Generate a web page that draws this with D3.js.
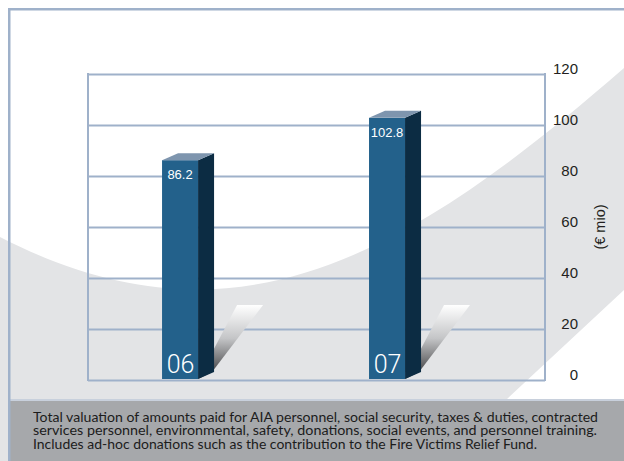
<!DOCTYPE html>
<html>
<head>
<meta charset="utf-8">
<script src="https://cdn.jsdelivr.net/npm/d3@7"></script>
<style>
  html, body { margin: 0; padding: 0; background: #ffffff; }
  svg { display: block; }
</style>
</head>
<body>
<svg id="chart" width="624" height="461"></svg>
<script>
// Data
const categories = ["06", "07"];
const values = [86.2, 102.8];
const tickValues = [0, 20, 40, 60, 80, 100, 120];
const axisTitle = "(€ mio)";
const captionLines = [
  "Total valuation of amounts paid for AIA personnel, social security, taxes & duties, contracted",
  "services personnel, environmental, safety, donations, social events, and personnel training.",
  "Includes ad-hoc donations such as the contribution to the Fire Victims Relief Fund."
];
const captionWidths = [565, 564, 504];

const W = 624, H = 461;
const plot = { left: 88, right: 545, top: 74, bottom: 380 };
const frameColor = "#9fb1ca";
const depthX = 16, depthY = 7;

const svg = d3.select("#chart");

// Gradient for the floor shadow behind each bar
const defs = svg.append("defs");
const grad = defs.append("linearGradient")
  .attr("id", "shadowGrad").attr("x1", 0).attr("y1", 0).attr("x2", 0).attr("y2", 1);
grad.append("stop").attr("offset", "0%").attr("stop-color", "#ffffff");
grad.append("stop").attr("offset", "45%").attr("stop-color", "#c4c5c7");
grad.append("stop").attr("offset", "100%").attr("stop-color", "#2e2e30");

// Backdrop: white page with a sweeping grey band
svg.append("rect").attr("width", W).attr("height", H).attr("fill", "#ffffff");
svg.append("path")
  .attr("d", "M0,237 C230,355 400,263 624,68 L624,290 L507,399 L0,399 Z")
  .attr("fill", "#e3e4e6");
svg.append("rect").attr("x", 0).attr("y", 399).attr("width", 10).attr("height", 62).attr("fill", "#e3e4e6");

// Caption panel
svg.append("rect").attr("x", 10).attr("y", 399).attr("width", W - 10).attr("height", H - 399).attr("fill", "#a6a8ab");
svg.append("rect").attr("x", 10).attr("y", 399).attr("width", W - 10).attr("height", 2).attr("fill", "#c8d0dc");

// Outer frame (top and left edges)
svg.append("rect").attr("x", 8).attr("y", 8).attr("width", W - 8).attr("height", 2.5).attr("fill", frameColor);
svg.append("rect").attr("x", 8).attr("y", 8).attr("width", 2.5).attr("height", H - 8).attr("fill", frameColor);

// Scales
const x = d3.scaleBand()
  .domain(categories)
  .range([plot.left, plot.right])
  .paddingInner(0.826)
  .paddingOuter(0.517)
  .align(0.346);
const y = d3.scaleLinear().domain([0, 120]).range([plot.bottom, plot.top]);

// Gridlines
const grid = svg.append("g")
  .attr("transform", `translate(${plot.left},0)`)
  .call(d3.axisLeft(y).tickValues(tickValues).tickSize(-(plot.right - plot.left)).tickFormat(""));
grid.select(".domain").remove();
grid.selectAll("line").attr("stroke", frameColor).attr("stroke-width", 2);

// Plot box sides
[plot.left, plot.right].forEach(px => {
  svg.append("line")
    .attr("x1", px).attr("x2", px).attr("y1", y(120) - 1).attr("y2", y(0) + 1)
    .attr("stroke", frameColor).attr("stroke-width", 2);
});

// Value axis on the right
const axis = svg.append("g")
  .attr("transform", `translate(${plot.right},0)`)
  .call(d3.axisRight(y).tickValues(tickValues).tickSize(0).tickFormat(d3.format("d")));
axis.select(".domain").remove();
axis.selectAll("text")
  .attr("x", 33)
  .attr("dy", "-0.03em")
  .attr("text-anchor", "end")
  .attr("fill", "#231f20")
  .style("font-family", "'Liberation Sans', Arial, sans-serif")
  .style("font-size", "15px");

svg.append("text")
  .attr("transform", `translate(604.5,${(y(0) + y(120)) / 2}) rotate(-90)`)
  .attr("text-anchor", "middle")
  .attr("fill", "#231f20")
  .style("font-family", "'Liberation Sans', Arial, sans-serif")
  .style("font-size", "14.5px")
  .text(axisTitle);

// Bars
const data = categories.map((c, i) => ({ cat: c, value: values[i] }));
const bw = x.bandwidth();
const base = y(0) - 1;

const bars = svg.append("g").selectAll("g").data(data).join("g");

// floor shadow
bars.append("path")
  .attr("fill", "url(#shadowGrad)")
  .attr("d", d => {
    const x1 = x(d.cat) + bw;
    const top = base - 74;
    return `M${x1},${base} L${x1 + 39},${top} L${x1 + 65},${top} L${x1 + 14},${base - 7} Z`;
  });

// front face
bars.append("rect")
  .attr("x", d => x(d.cat))
  .attr("y", d => y(d.value))
  .attr("width", bw)
  .attr("height", d => base - y(d.value))
  .attr("fill", "#23618b");

// side face
bars.append("path")
  .attr("fill", "#0c2c43")
  .attr("d", d => {
    const x1 = x(d.cat) + bw, yt = y(d.value);
    return `M${x1},${yt} L${x1 + depthX},${yt - depthY} L${x1 + depthX},${base - depthY} L${x1},${base} Z`;
  });

// top face
bars.append("path")
  .attr("fill", "#7e95ae")
  .attr("d", d => {
    const x0 = x(d.cat), yt = y(d.value);
    return `M${x0},${yt} L${x0 + depthX},${yt - depthY} L${x0 + bw + depthX},${yt - depthY} L${x0 + bw},${yt} Z`;
  });

// value labels
bars.append("text")
  .attr("x", d => x(d.cat) + bw / 2)
  .attr("y", d => y(d.value) + 19)
  .attr("text-anchor", "middle")
  .attr("fill", "#ffffff")
  .style("font-family", "'Liberation Sans', Arial, sans-serif")
  .style("font-size", "13px")
  .text(d => d3.format(".1f")(d.value));

// category labels
bars.append("text")
  .attr("x", d => x(d.cat) + bw / 2 + 0.5)
  .attr("y", y(0) - 7)
  .attr("text-anchor", "middle")
  .attr("fill", "#ffffff")
  .style("font-family", "Roboto, 'Liberation Sans', sans-serif")
  .style("font-weight", 300)
  .style("font-size", "25px")
  .text(d => d.cat);

// Caption, one text element per line
svg.append("g").selectAll("text")
  .data(captionLines)
  .join("text")
  .attr("x", 33)
  .attr("y", (d, i) => 421.5 + i * 13.8)
  .attr("textLength", (d, i) => captionWidths[i])
  .attr("lengthAdjust", "spacingAndGlyphs")
  .attr("fill", "#1c1c1c")
  .style("font-family", "Lato, 'Liberation Sans', sans-serif")
  .style("font-size", "12.5px")
  .text(d => d);
</script>
</body>
</html>
